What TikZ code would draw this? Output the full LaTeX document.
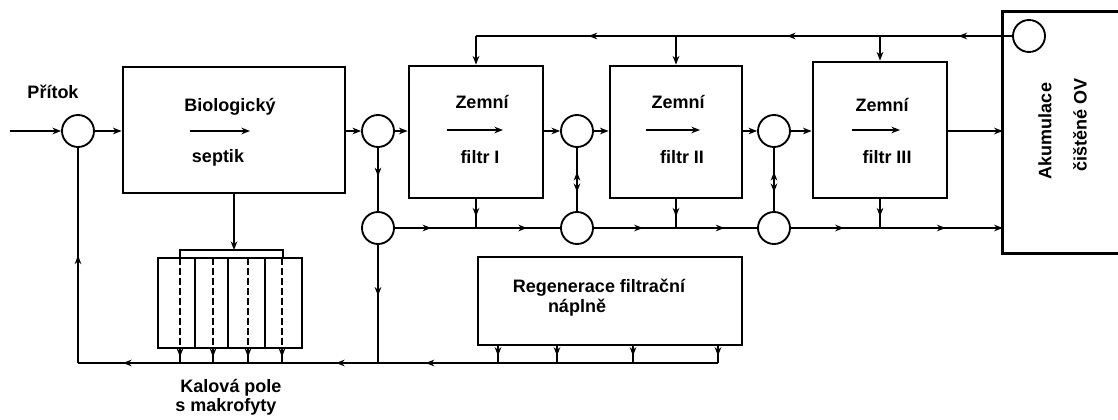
\documentclass[tikz,border=0pt]{standalone}
\usepackage{fontspec}
\setmainfont{Liberation Sans}
\usetikzlibrary{arrows.meta,decorations.markings}

\begin{document}
\begin{tikzpicture}[x=0.75pt,y=-0.75pt,
    >={Stealth[length=6.5pt,width=5pt]},
    line/.style={line width=1.9pt},
    unit/.style={draw,line width=2.1pt,inner sep=0pt},
    valve/.style={circle,draw,line width=1.4pt,minimum size=24pt,inner sep=0pt},
    tag/.style={font=\fontsize{13.5}{16}\selectfont\bfseries,inner sep=1pt},
    flowmark/.style={postaction={decorate,decoration={markings,mark=at position #1 with {\arrow{>}}}}},
    backmark/.style={postaction={decorate,decoration={markings,mark=at position #1 with {\arrowreversed{>}}}}}]
    \useasboundingbox (0,0) rectangle (1118,420);

    % boxes
    \node[unit,minimum width=166.5pt,minimum height=94.5pt] (sep) at (234,130) {};
    \node[unit,minimum width=100.5pt,minimum height=99pt] (fI) at (476,132) {};
    \node[unit,minimum width=99pt,minimum height=99pt] (fII) at (676,132) {};
    \node[unit,minimum width=100.5pt,minimum height=102pt] (fIII) at (880,130) {};
    \node[unit,minimum width=198pt,minimum height=66pt] (regen) at (610,301) {};
    \node[unit,minimum width=108pt,minimum height=67.5pt] (kal) at (230,303) {};
    \node[minimum width=88.5pt,minimum height=180.75pt,inner sep=0pt] (akum) at (1062,132.5) {};
    \draw[line width=2.1pt] (akum.north east) -- (akum.north west) -- (akum.south west) -- (akum.south east);

    % valves
    \node[valve] (k0) at (78,131) {};
    \node[valve] (k1) at (378,131) {};
    \node[valve] (k1d) at (378,228) {};
    \node[valve] (k2) at (577,131) {};
    \node[valve] (k2d) at (577,228) {};
    \node[valve] (k3) at (774,131) {};
    \node[valve] (k3d) at (774,228) {};
    \node[valve] (k4) at (1029,36) {};

    \coordinate (in) at (10,131);
    \coordinate (r0) at (78,363);
    \coordinate (r1) at (718,363);

    % texts
    \node[tag] (pritok) at (53,92) {Přítok};
    \node[tag] (sepA) at (230,107) {Biologický};
    \node[tag] (sepB) at (218,158) {septik};
    \node[tag] (fIa) at (482,102) {Zemní};
    \node[tag] (fIb) at (480,157) {filtr I};
    \node[tag] (fIIa) at (678,102) {Zemní};
    \node[tag] (fIIb) at (682,157) {filtr II};
    \node[tag] (fIIIa) at (882,105) {Zemní};
    \node[tag] (fIIIb) at (887,157) {filtr III};
    \node[tag] (regenA) at (599,288) {Regenerace filtrační};
    \node[tag] (regenB) at (577,308) {náplně};
    \node[tag,rotate=90] (akumA) at (1045,131) {Akumulace};
    \node[tag,rotate=90] (akumB) at (1080,125) {čištěné OV};
    \node[tag] (kalA) at (231,388) {Kalová pole};
    \node[tag] (kalB) at (226,407) {s makrofyty};

    % flow arrows inside boxes
    \draw[line width=1pt,->] (190,131) -- (250,131);
    \draw[line width=1pt,->] (447,130) -- (503,130);
    \draw[line width=1pt,->] (646,130) -- (700,130);
    \draw[line width=1pt,->] (852,130) -- (900,130);

    % main line
    \draw[line,->] (in) -- (k0.west);
    \draw[line,->] (k0.east) -- (sep.west |- k0);
    \draw[line,->] (sep.east |- k1) -- (k1.west);
    \draw[line,->] (k1.east) -- (fI.west |- k1);
    \draw[line,->] (fI.east |- k2) -- (k2.west);
    \draw[line,->] (k2.east) -- (fII.west |- k2);
    \draw[line,->] (fII.east |- k3) -- (k3.west);
    \draw[line,->] (k3.east) -- (fIII.west |- k3);
    \draw[line,->] (fIII.east |- k3) -- (akum.west |- k3);

    % recirculation from accumulation
    \draw[line,flowmark=.1,flowmark=.42,flowmark=.79] (k4.west) -- (fI.north |- k4.west);
    \draw[line,->] (fI.north |- k4.west) -- (fI.north);
    \foreach \f in {fII,fIII}
        \draw[line,->] (\f.north |- k4.west) -- (\f.north);

    % lower line
    \draw[line,flowmark=.45] (k1.south) -- (k1d.north);
    \draw[line,backmark=.38,flowmark=.7] (k2.south) -- (k2d.north);
    \draw[line,backmark=.38,flowmark=.7] (k3.south) -- (k3d.north);
    \foreach \f in {fI,fII,fIII}
        \draw[line,flowmark=.6] (\f.south) -- (\f.south |- k1d);
    \draw[line,flowmark=.22,flowmark=.8] (k1d.east) -- (k2d.west);
    \draw[line,flowmark=.3,flowmark=.8] (k2d.east) -- (k3d.west);
    \draw[line,flowmark=.25,flowmark=.73,->] (k3d.east) -- (akum.west |- k3d);

    % sludge fields
    \draw[line,->] (sep.south) -- (sep.south |- 0,250);
    \draw[line] (180,258) -- (180,250) -- (283,250) -- (283,258);
    \foreach \x in {195,228,265}
        \draw[line] (\x,258) -- (\x,348);
    \foreach \x in {180,213,248,282} {
        \draw[line,dash pattern=on 5pt off 2.5pt] (\x,258) -- (\x,348);
        \draw[line,flowmark=.6] (\x,348) -- (\x,363);
    }
    \foreach \x in {498,557,633,718}
        \draw[line,flowmark=.6] (\x,345) -- (\x,363);

    % return line
    \draw[line,flowmark=.43] (k1d.south) -- (k1d |- r0);
    \draw[line,flowmark=.86] (r1) -- (k1d |- r1);
    \draw[line,flowmark=.14,flowmark=.85] (k1d |- r0) -- (r0);
    \draw[line,flowmark=.5] (r0) -- (k0.south);
\end{tikzpicture}
\end{document}
